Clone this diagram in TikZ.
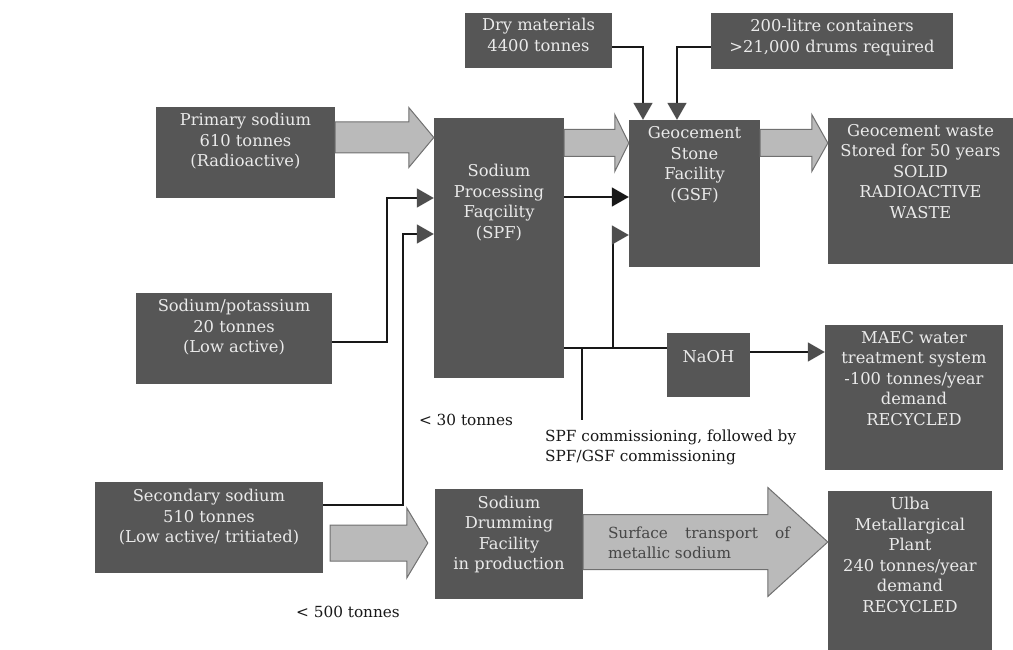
\documentclass[tikz,border=0pt]{standalone}
\usepackage{fontspec}
\setmainfont{DejaVu Serif}
\usetikzlibrary{arrows.meta,calc}
\definecolor{boxgray}{RGB}{86,86,86}
\definecolor{boxtext}{RGB}{234,234,234}
\definecolor{arrowfill}{RGB}{186,186,186}
\definecolor{arrowline}{RGB}{112,112,112}
\definecolor{headgray}{RGB}{78,78,78}
\definecolor{ink}{RGB}{24,24,24}
\definecolor{transportink}{RGB}{70,70,70}
\newcommand{\boxlines}[2]{\begin{tabular}{@{}c@{}}#2\\[#1pt]\end{tabular}}
\begin{document}
\begin{tikzpicture}[x=1pt,y=-1pt,
    box/.style={fill=boxgray,text=boxtext,inner sep=0pt,font=\fontsize{16.3}{20.5}\selectfont},
    note/.style={text=ink,inner sep=0pt,font=\fontsize{15.3}{20}\selectfont},
    wire/.style={draw=ink,line width=1.6pt},
    feed/.style={wire,-{Triangle[length=17pt,width=19pt,color=headgray]}},
    fat/.style n args={4}{draw=arrowline,line width=1pt,fill=arrowfill,
      to path={let \p1=(\tikztostart),\p2=(\tikztotarget) in
        (\x1+#4pt,\y1+#1pt) -- (\x2-#3pt-#4pt,\y1+#1pt) -- (\x2-#3pt-#4pt,\y1+#2pt)
        -- (\x2-#4pt,\y1) -- (\x2-#3pt-#4pt,\y1-#2pt) -- (\x2-#3pt-#4pt,\y1-#1pt)
        -- (\x1+#4pt,\y1-#1pt) -- cycle}}]
    \useasboundingbox (0,0) rectangle (1013,650);

    % boxes
    \node[box,minimum width=147pt,minimum height=55pt] (dry) at (538.5,40.5) {\boxlines{7}{Dry materials\\4400 tonnes}};
    \node[box,minimum width=242pt,minimum height=56pt] (drums) at (832,41) {\boxlines{6}{200-litre containers\\\textgreater21,000 drums required}};
    \node[box,minimum width=179pt,minimum height=91pt] (primary) at (245.5,152.5) {\boxlines{21}{Primary sodium\\610 tonnes\\(Radioactive)}};
    \node[box,minimum width=130pt,minimum height=260pt] (spf) at (499,248) {\boxlines{89}{Sodium\\Processing\\Faqcility\\(SPF)}};
    \node[box,minimum width=131pt,minimum height=147pt] (gsf) at (694.5,193.5) {\boxlines{56}{Geocement\\Stone\\Facility\\(GSF)}};
    \node[box,minimum width=185pt,minimum height=146pt] (waste) at (920.5,191) {\boxlines{36}{Geocement waste\\Stored for 50 years\\SOLID\\RADIOACTIVE\\WASTE}};
    \node[box,minimum width=196pt,minimum height=91pt] (potassium) at (234,338.5) {\boxlines{21}{Sodium/potassium\\20 tonnes\\(Low active)}};
    \node[box,minimum width=83pt,minimum height=64pt] (naoh) at (708.5,365) {\boxlines{14}{NaOH}};
    \node[box,minimum width=178pt,minimum height=145pt] (maec) at (914,397.5) {\boxlines{35}{MAEC water\\treatment system\\-100 tonnes/year\\demand\\RECYCLED}};
    \node[box,minimum width=228pt,minimum height=91pt] (secondary) at (209,527.5) {\boxlines{19}{Secondary sodium\\510 tonnes\\(Low active/ tritiated)}};
    \node[box,minimum width=148pt,minimum height=110pt] (drumming) at (509,544) {\boxlines{18}{Sodium\\Drumming\\Facility\\in production}};
    \node[box,minimum width=164pt,minimum height=159pt] (ulba) at (910,570.5) {\boxlines{27}{Ulba\\Metallargical\\Plant\\240 tonnes/year\\demand\\RECYCLED}};

    % wide arrows
    \draw[fat={15.5}{30}{25}{0}] (primary.east |- 0,137.5) to (spf.west |- 0,137.5);
    \draw[fat={13.5}{28.5}{14}{0}] (spf.east |- 0,143) to (gsf.west |- 0,143);
    \draw[fat={13.5}{28.5}{16}{0}] (gsf.east |- 0,143) to (waste.west |- 0,143);
    \draw[fat={18}{35}{21}{7}] (secondary.east |- 0,543) to (drumming.west |- 0,543);
    \draw[fat={27.5}{54.5}{60}{0}] (drumming.east |- 0,542) to (ulba.west |- 0,542);
    \node[note,text=transportink,text width=182pt,align=justify] (transport) at (699,542.5) {Surface transport of\linebreak metallic sodium};

    % notes
    \node[note] (thirty) at (466,420) {\textless{} 30 tonnes};
    \node[note] (fivehundred) at (348,612) {\textless{} 500 tonnes};
    \node[note,align=left,anchor=west] (commission) at (545,447) {SPF commissioning, followed by\\SPF/GSF commissioning};

    % lines
    \coordinate (tee) at (582,348);
    \coordinate (split) at (613,348);
    \draw[feed] (potassium.east |- 0,342) -- ++(55,0) |- (spf.west |- 0,198);
    \draw[feed] (secondary.east |- 0,505) -- ++(80,0) |- (spf.west |- 0,234);
    \draw[wire,-{Triangle[length=17pt,width=19pt]}] (spf.east |- 0,197) -- (gsf.west |- 0,197);
    \draw[feed] (dry.east |- 0,47) -| ([xshift=-51.5pt]gsf.north);
    \draw[feed] (drums.west |- 0,47) -| ([xshift=-17.5pt]gsf.north);
    \draw[wire] (spf.east |- 0,348) -- (naoh.west |- 0,348);
    \draw[feed] (split) |- (gsf.west |- 0,235);
    \draw[wire] (tee) -- (tee |- 0,420);
    \draw[feed] (naoh.east |- 0,352) -- (maec.west |- 0,352);
\end{tikzpicture}
\end{document}
